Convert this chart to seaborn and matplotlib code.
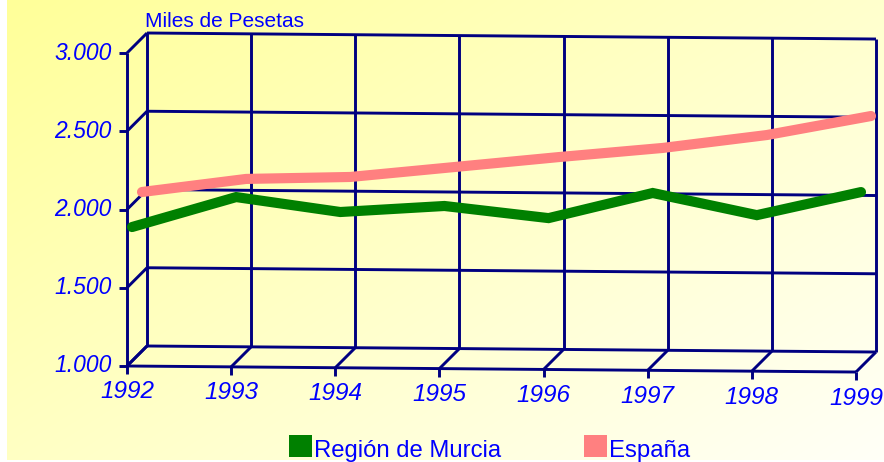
import numpy as np
import pandas as pd
import matplotlib
matplotlib.use("Agg")
import matplotlib.pyplot as plt
import seaborn as sns
from matplotlib.transforms import Affine2D, IdentityTransform
from matplotlib.lines import Line2D
from matplotlib.patches import Rectangle

# ---------------- data ----------------
years = [1992, 1993, 1994, 1995, 1996, 1997, 1998, 1999]
murcia = [1856, 2053, 1963, 2007, 1935, 2101, 1965, 2118]
espana = [2016, 2105, 2123, 2192, 2261, 2325, 2413, 2540]
y_ticks = [1000, 1500, 2000, 2500, 3000]
y_tick_labels = ["1.000", "1.500", "2.000", "2.500", "3.000"]
series_names = ["Región de Murcia", "España"]
series_colors = ["#008000", "#FF8080"]
y_title = "Miles de Pesetas"

sns.set_theme(style="white")
plt.rcParams["font.family"] = ["Liberation Sans", "DejaVu Sans"]

W, H = 884, 462
fig = plt.figure(figsize=(W / 100, H / 100), dpi=100)
fig.patch.set_facecolor("white")

# ---------------- background gradient ----------------
bg = fig.add_axes([0, 0, 1, 1])
bg.set_axis_off()
gx = np.linspace(0, 1, 300)
gy = np.linspace(0, 1, 160)
GX, GY = np.meshgrid(gx, gy)
t = np.clip((GX * 0.55 + GY * 0.45), 0, 1)[..., None]
c0 = np.array([1.0, 1.0, 0.60])
c1 = np.array([1.0, 1.0, 0.97])
img = c0 * (1 - t) + c1 * t
bg.imshow(img, extent=[7 / W, 1, 2 / H, 1], origin="upper", aspect="auto",
          interpolation="bilinear")
bg.set_xlim(0, 1)
bg.set_ylim(0, 1)

# ---------------- main (front plane) axes ----------------
ax = fig.add_axes([127 / W, (H - 366) / H, (856 - 127) / W, (366 - 53) / H])
ax.set_xlim(years[0], years[-1])
ax.set_ylim(y_ticks[0], y_ticks[-1])
ax.set_axis_off()
ax.patch.set_alpha(0)
ax.set_autoscale_on(False)

K = 5.5  # slight perspective tilt (value units per year)
skew = Affine2D(np.array([[1.0, 0, 0], [-K, 1.0, K * years[0]], [0, 0, 1.0]]))
DEPTH = 20  # pixels


def T(d):
    return skew + ax.transData + Affine2D().translate(DEPTH * d, DEPTH * d)


navy = "#000080"
lwg = 2.1


def P(yr, v, d):
    return T(d).transform((yr, v))


def seg(p0, p1):
    ax.add_line(Line2D([p0[0], p1[0]], [p0[1], p1[1]], transform=IdentityTransform(),
                       color=navy, lw=lwg, clip_on=False, solid_capstyle="butt"))


# back wall grid
for v in y_ticks:
    ax.plot([years[0], years[-1]], [v, v], transform=T(1), color=navy, lw=lwg,
            clip_on=False, solid_capstyle="butt")
for yr in years:
    ax.plot([yr, yr], [y_ticks[0], y_ticks[-1]], transform=T(1), color=navy, lw=lwg,
            clip_on=False, solid_capstyle="butt")

# floor and left wall
for yr in years:
    seg(P(yr, y_ticks[0], 0), P(yr, y_ticks[0], 1))
    p = P(yr, y_ticks[0], 0)
    seg(p, (p[0], p[1] - 8))
for v in y_ticks:
    seg(P(years[0], v, 0), P(years[0], v, 1))
    p = P(years[0], v, 0)
    seg(p, (p[0] - 8, p[1]))
seg(P(years[0], y_ticks[0], 0), P(years[-1], y_ticks[0], 0))
seg(P(years[0], y_ticks[0], 0), P(years[0], y_ticks[-1], 0))

# ---------------- series ----------------
sns.lineplot(x=years, y=espana, ax=ax, color=series_colors[1], lw=7.3,
             transform=T(0.75), solid_capstyle="round", solid_joinstyle="miter",
             legend=False, clip_on=False, zorder=5)
sns.lineplot(x=years, y=murcia, ax=ax, color=series_colors[0], lw=7.3,
             transform=T(0.25), solid_capstyle="round", solid_joinstyle="miter",
             legend=False, clip_on=False, zorder=6)
ax.set_xlim(years[0], years[-1])
ax.set_ylim(y_ticks[0], y_ticks[-1])
ax.set_axis_off()

# ---------------- tick labels ----------------
for v, lab in zip(y_ticks, y_tick_labels):
    ax.text(years[0], v, lab, transform=T(0) + Affine2D().translate(-15, 0),
            ha="right", va="center", fontsize=16.5, style="italic",
            color="#0000FF", clip_on=False)
for yr in years:
    ax.text(yr, y_ticks[0], str(yr), transform=T(0) + Affine2D().translate(0, -26),
            ha="center", va="center", fontsize=17.5, style="italic",
            color="#0000FF", clip_on=False)

fig.text(0.1635, (H - 27) / H, y_title, fontsize=15, color="#0000FF",
         ha="left", va="baseline")

# ---------------- legend ----------------
leg_x = [289, 584]
for name, col, lx in zip(series_names, series_colors, leg_x):
    fig.add_artist(Rectangle((lx / W, (H - 457) / H), 23 / W, 22 / H,
                             transform=fig.transFigure, facecolor=col,
                             edgecolor="none"))
    fig.text((lx + 25) / W, (H - 457) / H, name, fontsize=17.2, color="#0000FF",
             ha="left", va="baseline")

fig.savefig("out.png", dpi=100, facecolor=fig.get_facecolor())
